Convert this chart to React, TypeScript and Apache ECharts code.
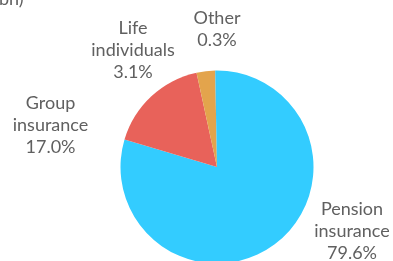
import React, { useEffect, useRef } from "react";
import * as echarts from "echarts";

const categories = ["Pension\ninsurance", "Group\ninsurance", "Life\nindividuals", "Other"];
const shares = [79.6, 17.0, 3.1, 0.3];
const sliceColors = ["#33CCFF", "#E8625A", "#E3A44C", "#3AC8F5"];
const labelPos: [number, number][] = [
  [352, 230],
  [50.5, 124],
  [133, 49],
  [217, 28],
];

export default function App() {
  const ref = useRef<HTMLDivElement>(null);
  useEffect(() => {
    if (!ref.current) return;
    const chart = echarts.init(ref.current, null, { renderer: "svg" });
    chart.setOption({
      animation: false,
      graphic: [
        {
          type: "text",
          left: -1,
          top: -11,
          style: {
            text: "bn)",
            fontFamily: "Lato",
            fontSize: 18,
            fill: "#606060",
          },
        },
      ],
      series: [
        {
          type: "pie",
          center: [217, 167],
          radius: 96.5,
          startAngle: 90,
          clockwise: true,
          avoidLabelOverlap: false,
          itemStyle: { borderWidth: 0 },
          label: {
            show: true,
            position: "outside",
            fontFamily: "Lato",
            fontSize: 18,
            lineHeight: 22,
            color: "#606060",
            align: "center",
            formatter: (p: any) => `${p.name}\n${Number(p.value).toFixed(1)}%`,
          },
          labelLine: { show: false },
          labelLayout: (params: any) => {
            const pos = labelPos[params.dataIndex];
            return { x: pos[0], y: pos[1], align: "center", verticalAlign: "middle" };
          },
          data: categories.map((name, i) => ({
            name,
            value: shares[i],
            itemStyle: { color: sliceColors[i] },
          })),
        },
      ],
    });
    return () => chart.dispose();
  }, []);
  return (
    <div
      ref={ref}
      style={{ position: "fixed", left: 0, top: 0, width: 393, height: 261 }}
    />
  );
}
